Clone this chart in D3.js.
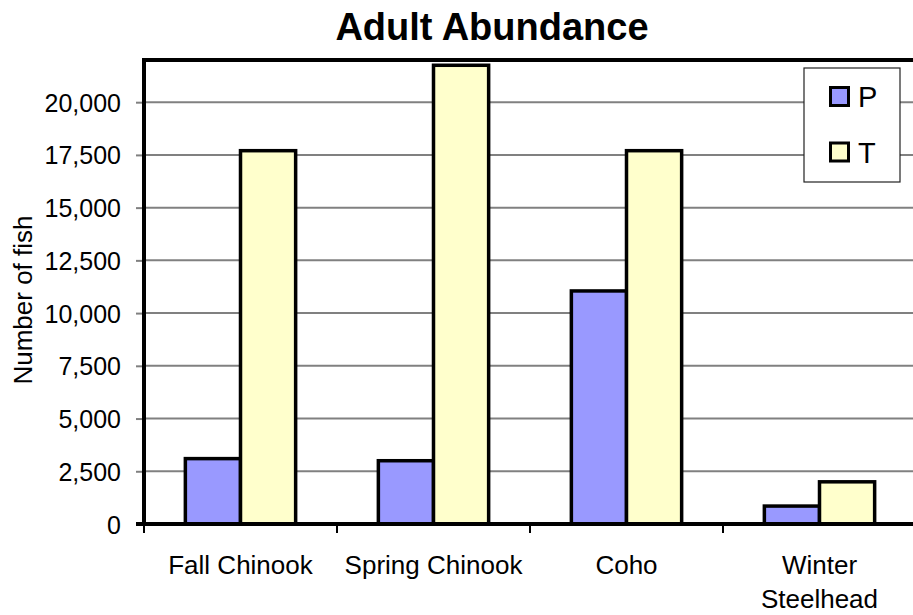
<!DOCTYPE html>
<html>
<head>
<meta charset="utf-8">
<script src="https://cdn.jsdelivr.net/npm/d3@7"></script>
<style>
  html, body { margin: 0; padding: 0; background: #fff; }
  svg { display: block; font-family: "Liberation Sans", Arial, sans-serif; }
</style>
</head>
<body>
<svg id="chart" width="913" height="615"></svg>
<script>
// Adult abundance by run, two series (P and T)
const categories = ["Fall Chinook", "Spring Chinook", "Coho", "Winter Steelhead"];
const seriesNames = ["P", "T"];
const valuesP = [3100, 3000, 11050, 850];
const valuesT = [17700, 21750, 17700, 2000];
const yTicks = [0, 2500, 5000, 7500, 10000, 12500, 15000, 17500, 20000];
const colors = { P: "#9999FF", T: "#FFFFCC" };

const svg = d3.select("#chart");
const m = { left: 144, right: 916, top: 60, bottom: 524 };
const FONT = "Liberation Sans, Arial, sans-serif";

const x = d3.scaleBand().domain(categories).range([m.left, m.right]).paddingInner(0).paddingOuter(0);
const xInner = d3.scaleBand().domain(seriesNames).range([0, x.bandwidth()]).paddingInner(0).paddingOuter(0.75);
const y = d3.scaleLinear().domain([0, 22000]).range([m.bottom, m.top]);

// Title
svg.append("text")
  .attr("x", 492).attr("y", 40)
  .attr("text-anchor", "middle")
  .attr("font-size", 38).attr("font-weight", "bold")
  .text("Adult Abundance");

// Gridlines
svg.append("g").selectAll("line").data(yTicks.filter(d => d > 0)).join("line")
  .attr("x1", m.left).attr("x2", m.right)
  .attr("y1", d => y(d)).attr("y2", d => y(d))
  .attr("stroke", "#808080").attr("stroke-width", 2);

// Y axis
const yAxis = d3.axisLeft(y).tickValues(yTicks).tickSize(8).tickPadding(15)
  .tickFormat(d3.format(","));
const gy = svg.append("g").attr("transform", `translate(${m.left},0)`).call(yAxis)
  .attr("font-size", 25).attr("font-family", FONT);
gy.select(".domain").remove();
gy.selectAll(".tick line").attr("stroke", "#808080").attr("stroke-width", 2);
gy.selectAll(".tick text").attr("fill", "#000").attr("dy", "0.36em");

// Y axis label
svg.append("text")
  .attr("transform", "translate(32,300) rotate(-90)")
  .attr("text-anchor", "middle")
  .attr("font-size", 26)
  .text("Number of fish");

// Bars
const groups = svg.append("g").selectAll("g").data(categories).join("g")
  .attr("transform", d => `translate(${x(d)},0)`);
groups.selectAll("rect").data((d, i) => [
    { s: "P", v: valuesP[i] },
    { s: "T", v: valuesT[i] }
  ]).join("rect")
  .attr("x", d => xInner(d.s))
  .attr("width", xInner.bandwidth())
  .attr("y", d => y(d.v))
  .attr("height", d => y(0) - y(d.v))
  .attr("fill", d => colors[d.s])
  .attr("stroke", "#000").attr("stroke-width", 3.5);

// Plot frame: top border and left axis line
svg.append("line").attr("x1", m.left).attr("x2", m.right).attr("y1", m.top).attr("y2", m.top)
  .attr("stroke", "#000").attr("stroke-width", 4);
svg.append("line").attr("x1", m.left).attr("x2", m.left).attr("y1", m.top - 2).attr("y2", m.bottom)
  .attr("stroke", "#000").attr("stroke-width", 4);

// X axis
const gx = svg.append("g").attr("transform", `translate(0,${m.bottom})`);
gx.append("line").attr("x1", m.left - 8).attr("x2", m.right).attr("y1", 0).attr("y2", 0)
  .attr("stroke", "#000").attr("stroke-width", 4);
gx.selectAll("line.tk").data(categories.map(c => x(c)).concat([m.right])).join("line")
  .attr("class", "tk")
  .attr("x1", d => d).attr("x2", d => d).attr("y1", 0).attr("y2", 9)
  .attr("stroke", "#000").attr("stroke-width", 2);
gx.selectAll("text").data(categories).join("text")
  .attr("text-anchor", "middle")
  .attr("font-size", 26)
  .each(function(d) {
    const words = d === "Winter Steelhead" ? ["Winter", "Steelhead"] : [d];
    const t = d3.select(this);
    words.forEach((w, i) => {
      t.append("tspan").attr("x", x(d) + x.bandwidth() / 2).attr("y", 50 + i * 34).text(w);
    });
  });

// Legend
const lg = svg.append("g").attr("transform", "translate(804,68)");
lg.append("rect").attr("width", 96).attr("height", 114)
  .attr("fill", "#fff").attr("stroke", "#222").attr("stroke-width", 1.2);
seriesNames.forEach((s, i) => {
  lg.append("rect")
    .attr("x", 26.5).attr("y", 19.5 + i * 55.5).attr("width", 18).attr("height", 18)
    .attr("fill", colors[s]).attr("stroke", "#000").attr("stroke-width", 3);
  lg.append("text")
    .attr("x", 54).attr("y", 39 + i * 55.5)
    .attr("font-size", 29)
    .text(s);
});
</script>
</body>
</html>
